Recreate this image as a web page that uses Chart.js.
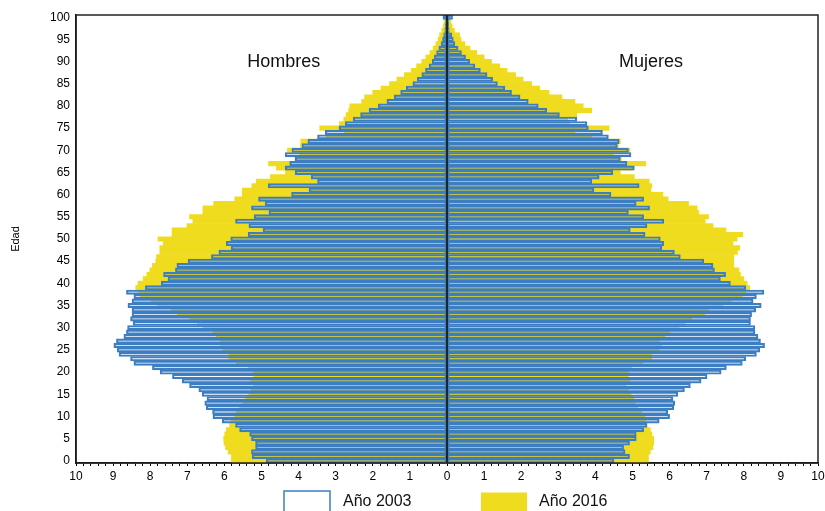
<!DOCTYPE html>
<html>
<head>
<meta charset="utf-8">
<style>
  html, body { margin: 0; padding: 0; background: #fff; overflow: hidden; }
  #wrap { width: 825px; height: 511px; }
</style>
</head>
<body>
<div id="wrap"><canvas id="chart" width="825" height="511"></canvas></div>
<script src="https://cdn.jsdelivr.net/npm/chart.js@4.4.1/dist/chart.umd.min.js"></script>
<script>
// ages 0..100, percentages
var ages = [];
for (var i = 0; i <= 100; i++) ages.push(String(i));

var hombres2003 = [4.87,5.25,5.27,5.16,5.16,5.27,5.32,5.59,5.70,6.06,
  6.31,6.32,6.49,6.53,6.47,6.60,6.69,6.94,7.14,7.40,
  7.73,7.94,8.44,8.53,8.84,8.89,8.98,8.91,8.71,8.64,
  8.61,8.46,8.53,8.49,8.49,8.60,8.49,8.44,8.64,8.13,
  7.70,7.52,7.64,7.32,7.28,6.98,6.35,6.15,5.82,5.95,
  5.83,5.36,4.96,5.34,5.70,5.20,4.80,5.27,4.90,5.08,
  4.19,3.72,4.82,3.49,3.66,4.09,4.36,4.24,4.09,4.36,
  4.18,3.91,3.75,3.49,3.28,2.91,2.74,2.53,2.33,2.10,
  1.85,1.62,1.42,1.25,1.10,0.92,0.80,0.68,0.58,0.48,
  0.40,0.34,0.28,0.22,0.16,0.12,0.09,0.06,0.05,0.04,0.11];

var mujeres2003 = [4.50,4.92,4.80,4.76,4.92,5.10,5.10,5.30,5.39,5.72,
  6.00,5.95,6.11,6.14,6.09,6.22,6.40,6.56,6.85,7.01,
  7.39,7.53,7.96,8.05,8.34,8.43,8.56,8.45,8.38,8.30,
  8.30,8.18,8.18,8.21,8.32,8.47,8.25,8.34,8.54,8.05,
  7.64,7.37,7.51,7.21,7.17,6.92,6.29,6.13,5.79,5.84,
  5.75,5.34,4.94,5.39,5.84,5.30,4.89,5.46,5.10,5.30,
  4.42,3.96,5.18,3.90,4.10,4.47,5.05,4.85,4.67,4.96,
  4.89,4.59,4.64,4.35,4.19,3.81,3.77,3.50,3.03,2.69,
  2.46,2.19,1.97,1.74,1.56,1.36,1.23,1.08,0.90,0.75,
  0.61,0.50,0.39,0.30,0.21,0.17,0.13,0.06,0.05,0.05,0.15];

var hombres2016 = [5.81,5.81,5.90,5.97,6.01,6.02,5.99,5.95,5.86,5.81,
  5.72,5.68,5.59,5.50,5.43,5.34,5.27,5.21,5.29,5.21,
  5.21,5.35,5.68,5.88,5.88,6.04,6.10,6.10,6.22,6.31,
  6.58,6.73,6.94,7.27,7.43,7.81,7.97,8.26,8.31,8.39,
  8.33,8.19,8.09,8.01,7.94,7.85,7.83,7.74,7.74,7.65,
  7.79,7.41,7.41,7.01,6.85,6.94,6.58,6.58,6.29,5.72,
  5.52,5.52,5.26,5.14,4.76,4.35,4.60,4.81,4.10,3.97,
  4.30,3.95,3.94,3.25,2.76,3.43,2.90,2.78,2.72,2.65,
  2.62,2.30,2.22,2.00,1.78,1.55,1.35,1.15,0.96,0.82,
  0.68,0.57,0.46,0.37,0.30,0.24,0.20,0.14,0.10,0.08,0.06];

var mujeres2016 = [5.43,5.43,5.48,5.55,5.57,5.57,5.52,5.48,5.39,5.36,
  5.34,5.25,5.14,5.07,5.03,4.96,4.89,4.82,4.92,4.89,
  4.89,4.98,5.28,5.52,5.51,5.72,5.79,5.72,5.88,6.00,
  6.26,6.42,6.60,6.95,7.05,7.44,7.66,7.96,8.05,8.16,
  8.09,8.00,7.91,7.87,7.73,7.73,7.73,7.83,7.89,7.71,
  7.82,7.97,7.52,7.17,6.96,7.05,6.78,6.74,6.51,5.96,
  5.82,5.50,5.52,5.45,5.05,4.67,5.00,5.36,4.70,4.49,
  4.93,4.62,4.67,3.90,3.45,4.37,3.30,3.25,3.50,3.90,
  3.67,3.45,3.10,2.75,2.50,2.28,2.05,1.85,1.62,1.42,
  1.20,1.00,0.80,0.62,0.48,0.38,0.34,0.20,0.14,0.10,0.08];

var seriesNames = ['Año 2003', 'Año 2016'];
var sideNames = ['Hombres', 'Mujeres'];

var BLUE = '#3d7ec3';
var YELLOW = '#f0dc1e';
var FONT = '"Liberation Sans", Arial, sans-serif';

Chart.defaults.font.family = FONT;
Chart.defaults.color = '#000';

function neg(arr) { return arr.map(function (v) { return -v; }); }

var outline = { backgroundColor: 'rgba(0,0,0,0)', borderColor: BLUE, borderWidth: 1.5, borderSkipped: false };
var filled = { backgroundColor: YELLOW, borderWidth: 0 };

var overlay = {
  id: 'overlay',
  afterDatasetsDraw: function (chart) {
    var ctx = chart.ctx, a = chart.chartArea, x = chart.scales.x, y = chart.scales.y;
    ctx.save();
    var x0 = x.getPixelForValue(0);
    ctx.strokeStyle = '#000';
    ctx.lineWidth = 1.5;
    ctx.beginPath();
    ctx.moveTo(x0, a.top);
    ctx.lineTo(x0, a.bottom);
    ctx.stroke();
    ctx.strokeStyle = '#222';
    ctx.strokeRect(a.left, a.top, a.right - a.left, a.bottom - a.top);

    ctx.fillStyle = '#111';
    ctx.font = '18px ' + FONT;
    ctx.textAlign = 'center';
    ctx.textBaseline = 'middle';
    ctx.fillText(sideNames[0], x.getPixelForValue(-4.4), y.getPixelForValue(90));
    ctx.fillText(sideNames[1], x.getPixelForValue(5.5), y.getPixelForValue(90));
    ctx.restore();
  },
  afterDraw: function (chart) {
    // legend under the axis, partly cut by the page edge
    var ctx = chart.ctx, x0 = chart.scales.x.getPixelForValue(0);
    var top = chart.chartArea.bottom + 28;
    ctx.save();
    ctx.strokeStyle = BLUE;
    ctx.lineWidth = 1.5;
    ctx.strokeRect(x0 - 163, top, 46, 26);
    ctx.fillStyle = YELLOW;
    ctx.fillRect(x0 + 34, top + 1.5, 46, 26);
    ctx.fillStyle = '#111';
    ctx.font = '16px ' + FONT;
    ctx.textBaseline = 'middle';
    ctx.textAlign = 'left';
    ctx.fillText(seriesNames[0], x0 - 104, top + 11);
    ctx.fillText(seriesNames[1], x0 + 92, top + 11);
    ctx.restore();
  }
};

new Chart(document.getElementById('chart'), {
  type: 'bar',
  data: {
    labels: ages,
    datasets: [
      Object.assign({ label: seriesNames[0], data: neg(hombres2003) }, outline),
      Object.assign({ label: seriesNames[0], data: mujeres2003 }, outline),
      Object.assign({ label: seriesNames[1], data: neg(hombres2016) }, filled),
      Object.assign({ label: seriesNames[1], data: mujeres2016 }, filled)
    ]
  },
  options: {
    indexAxis: 'y',
    responsive: false,
    animation: false,
    devicePixelRatio: 1,
    layout: { padding: { top: 15, right: 7, left: 0, bottom: 0 } },
    datasets: { bar: { grouped: false, categoryPercentage: 1, barPercentage: 1 } },
    plugins: { legend: { display: false }, tooltip: { enabled: false } },
    scales: {
      x: {
        type: 'linear',
        min: -10,
        max: 10,
        afterFit: function (s) { s.height = 48; s.paddingLeft = 0; s.paddingRight = 0; },
        grid: { drawOnChartArea: false, drawTicks: true, tickLength: 3, tickColor: '#000', tickWidth: 1 },
        border: { display: true, color: '#000', width: 1.5 },
        ticks: {
          stepSize: 0.2,
          autoSkip: false,
          maxRotation: 0,
          padding: 3,
          font: { size: 12 },
          callback: function (v) {
            var r = Math.round(v);
            return Math.abs(v - r) < 1e-6 ? String(Math.abs(r)) : '';
          }
        }
      },
      y: {
        reverse: true,
        afterFit: function (s) { s.width = 76; },
        grid: { display: false, drawTicks: false },
        border: { display: true, color: '#000', width: 1.5 },
        title: { display: true, text: 'Edad', font: { size: 11 }, padding: { top: 9, bottom: 0 } },
        ticks: {
          autoSkip: false,
          padding: 6,
          font: { size: 12 },
          callback: function (v, i) { return i % 5 === 0 ? ages[i] : ''; }
        }
      }
    }
  },
  plugins: [overlay]
});
</script>
</body>
</html>
